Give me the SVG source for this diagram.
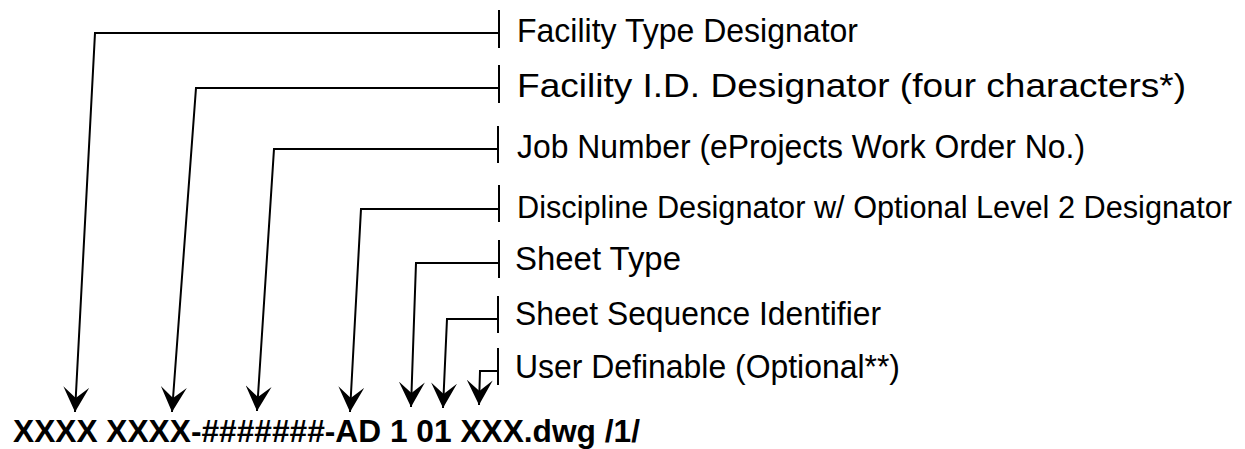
<svg xmlns="http://www.w3.org/2000/svg" width="1245" height="449" viewBox="0 0 1245 449">
<style>
.lbl{font-family:"Liberation Sans",Arial,sans-serif;font-size:33px;fill:#000}
.code{font-family:"Liberation Sans",Arial,sans-serif;font-size:31px;font-weight:bold;fill:#000}
.conn{fill:none;stroke:#000;stroke-width:2}
.tick{stroke:#000;stroke-width:2}
</style>
<defs>
<marker id="arr" markerUnits="userSpaceOnUse" viewBox="0 0 26 26" markerWidth="26" markerHeight="26" refX="25" refY="13" orient="auto">
<path d="M0,0 L25,13 L0,26 L11,13 Z" fill="#000"/>
</marker>
</defs>
<rect width="1245" height="449" fill="#fff"/>
<g id="connectors">
<path class="conn" d="M498,33 H95 L75,412" marker-end="url(#arr)"/>
<path class="conn" d="M498,88 H196 L172,412" marker-end="url(#arr)"/>
<path class="conn" d="M498,149 H274 L257,411" marker-end="url(#arr)"/>
<path class="conn" d="M498,209 H361 L350,412" marker-end="url(#arr)"/>
<path class="conn" d="M498,263 H416 L411,407" marker-end="url(#arr)"/>
<path class="conn" d="M498,319 H447 L443,408" marker-end="url(#arr)"/>
<path class="conn" d="M498,371 H480 L479,405" marker-end="url(#arr)"/>
</g>
<g id="n1"><line class="tick" x1="499" y1="10" x2="499" y2="48"/><text class="lbl" x="517" y="42" textLength="341" lengthAdjust="spacingAndGlyphs">Facility Type Designator</text></g>
<g id="n2"><line class="tick" x1="499" y1="65" x2="499" y2="103"/><text class="lbl" x="517" y="97" textLength="669" lengthAdjust="spacingAndGlyphs">Facility I.D. Designator (four characters*)</text></g>
<g id="n3"><line class="tick" x1="498" y1="126" x2="498" y2="163"/><text class="lbl" x="517" y="158" textLength="568" lengthAdjust="spacingAndGlyphs">Job Number (eProjects Work Order No.)</text></g>
<g id="n4"><line class="tick" x1="499" y1="185" x2="499" y2="222"/><text class="lbl" x="517" y="218" style="font-size:31px" textLength="715" lengthAdjust="spacingAndGlyphs">Discipline Designator w/ Optional Level 2 Designator</text></g>
<g id="n5"><line class="tick" x1="499" y1="240" x2="499" y2="278"/><text class="lbl" x="515" y="270" textLength="166" lengthAdjust="spacingAndGlyphs">Sheet Type</text></g>
<g id="n6"><line class="tick" x1="498" y1="296" x2="498" y2="333"/><text class="lbl" x="515" y="325" textLength="366" lengthAdjust="spacingAndGlyphs">Sheet Sequence Identifier</text></g>
<g id="n7"><line class="tick" x1="498" y1="348" x2="498" y2="385"/><text class="lbl" x="515" y="378" textLength="385" lengthAdjust="spacingAndGlyphs">User Definable (Optional**)</text></g>
<g id="code"><text class="code" x="13" y="442" textLength="627" lengthAdjust="spacingAndGlyphs">XXXX XXXX-#######-AD 1 01 XXX.dwg /1/</text></g>
</svg>
